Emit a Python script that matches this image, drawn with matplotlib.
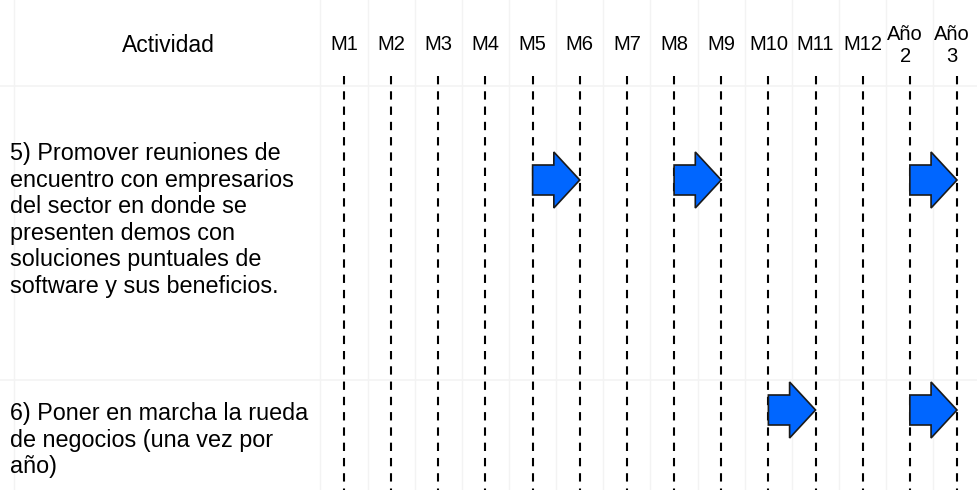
import matplotlib
matplotlib.use('Agg')
import matplotlib.pyplot as plt
from matplotlib.patches import FancyArrow

plt.rcParams['font.family'] = ['Liberation Sans', 'DejaVu Sans']
plt.rcParams['lines.scale_dashes'] = False

# columnas del cronograma
columns = ['M1', 'M2', 'M3', 'M4', 'M5', 'M6', 'M7', 'M8', 'M9', 'M10',
           'M11', 'M12', 'Año\n2', 'Año\n3']
activities = ['5) Promover reuniones de\nencuentro con empresarios\ndel sector en donde se\n'
              'presenten demos con\nsoluciones puntuales de\nsoftware y sus beneficios.',
              '6) Poner en marcha la rueda\nde negocios (una vez por\naño)']
# flechas: (actividad, columna inicio, columna fin)
arrow_act = [0, 0, 0, 1, 1]
arrow_start = ['M5', 'M8', 'Año\n2', 'M10', 'Año\n2']
arrow_end = ['M6', 'M9', 'Año\n3', 'M11', 'Año\n3']

# layout (y en pixeles, invertido)
row_arrow_y = [180, 410]
row_text_y = [220, 440]
row_lines = [86, 380]
header_y = 45

fig = plt.figure(figsize=(9.78, 4.9), dpi=100)
ax = fig.add_axes([0, 0, 1, 1])
step = (957 - 344) / (len(columns) - 1)
ax.set_xlim(-344 / step, (978 - 344) / step)
ax.set_ylim(490, 0)
ax.axis('off')

idx = {c: i for i, c in enumerate(columns)}

# rejilla tenue de la tabla
for i in range(len(columns) + 1):
    ax.axvline(i - 0.5, color='#f3f3f3', lw=1, zorder=0)
ax.axvline(-330 / step, color='#f3f3f3', lw=1, zorder=0)
for y in row_lines:
    ax.axhline(y, color='#f3f3f3', lw=1.2, zorder=0)

# encabezados
ax.text(-176 / step, header_y, 'Actividad', ha='center', va='center', fontsize=16.5)
for i, c in enumerate(columns):
    ax.text(i - (0.1 if '\n' in c else 0), header_y, c, ha='center', va='center',
            fontsize=14.5, linespacing=1.2)

# lineas discontinuas
for i in range(len(columns)):
    ax.plot([i, i], [76, 490], color='black', lw=1.5, dashes=(6, 5), zorder=2)

# actividades
for a, t in enumerate(activities):
    ax.text(-334 / step, row_text_y[a], t, ha='left', va='center',
            fontsize=16.8, linespacing=1.2)

# flechas
for a, s, e in zip(arrow_act, arrow_start, arrow_end):
    x0 = idx[s]
    dx = idx[e] - x0
    ax.add_patch(FancyArrow(x0, row_arrow_y[a], dx, 0, width=30, head_width=56,
                            head_length=0.55 * dx, length_includes_head=True,
                            facecolor='#0066ff', edgecolor='#1a1a1a', lw=1.2,
                            zorder=3))

fig.savefig('out.png', dpi=100)
